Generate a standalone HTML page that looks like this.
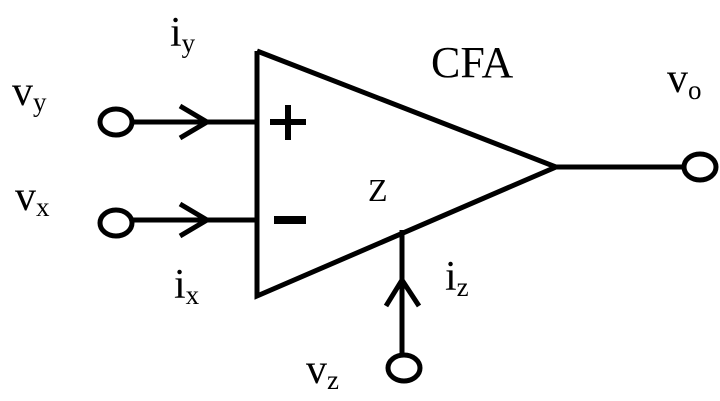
<!DOCTYPE html>
<html><head><style>html,body{margin:0;padding:0;background:#fff}svg{display:block}</style></head>
<body>
<svg width="720" height="401" viewBox="0 0 720 401" xmlns="http://www.w3.org/2000/svg" font-family="Liberation Serif, serif" fill="#000">
<g stroke="#000" stroke-width="5" fill="none">
<polyline points="257,51 556,167 257,296 257,51" stroke-linejoin="miter"/>
<line x1="132" y1="122" x2="257" y2="122"/>
<line x1="132" y1="220" x2="257" y2="220"/>
<polyline points="180,106 207,122 180,138"/>
<polyline points="180,204 207,220 180,236"/>
<line x1="556" y1="167" x2="685" y2="167"/>
<line x1="402" y1="230" x2="402" y2="355"/>
<polyline points="386,306 402,280 419,306"/>
<ellipse cx="116" cy="122" rx="16" ry="13"/>
<ellipse cx="116" cy="223" rx="16" ry="13"/>
<ellipse cx="700" cy="167" rx="16" ry="13"/>
<ellipse cx="404" cy="368" rx="16" ry="13"/>
</g>
<rect x="270" y="119" width="36" height="6"/>
<rect x="285" y="105" width="6" height="35"/>
<rect x="274" y="216" width="32" height="8"/>
<text x="170" y="46" font-size="42">i<tspan font-size="27" dy="6">y</tspan></text>
<text x="12" y="105" font-size="42">v<tspan font-size="27" dy="6">y</tspan></text>
<text x="15" y="210" font-size="42">v<tspan font-size="27" dy="6">x</tspan></text>
<text x="174" y="298" font-size="42">i<tspan font-size="27" dy="6">x</tspan></text>
<text x="368" y="201" font-size="32">Z</text>
<text x="431" y="77" font-size="44">CFA</text>
<text x="667" y="92" font-size="42">v<tspan font-size="27" dy="7">o</tspan></text>
<text x="445" y="290" font-size="42">i<tspan font-size="27" dy="6">z</tspan></text>
<text x="306" y="383" font-size="42">v<tspan font-size="27" dy="6">z</tspan></text>
</svg>
</body></html>
